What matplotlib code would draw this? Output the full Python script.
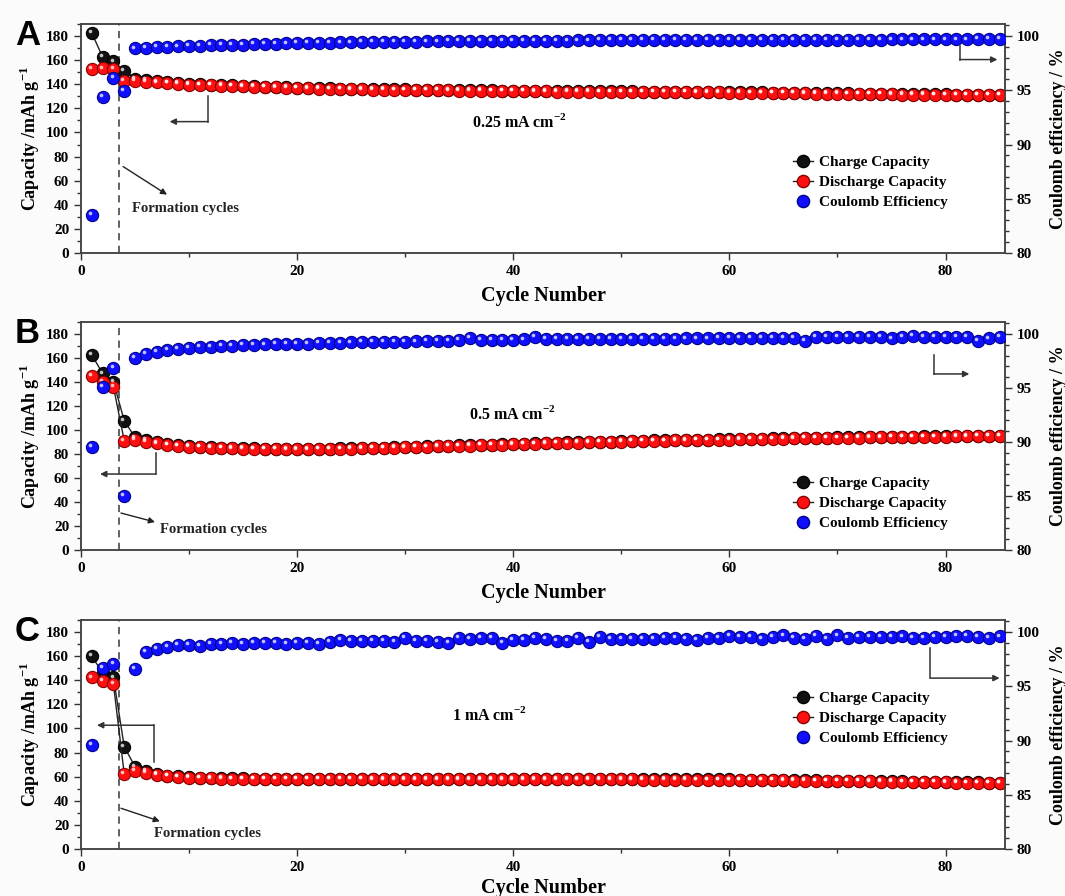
import numpy as np
import matplotlib
matplotlib.use("Agg")
import matplotlib.pyplot as plt
import matplotlib.transforms as mtransforms
from matplotlib.lines import Line2D
from matplotlib.ticker import MultipleLocator

plt.rcParams['font.family'] = ['Liberation Serif', 'DejaVu Serif']
plt.rcParams['mathtext.fontset'] = 'custom'
plt.rcParams['mathtext.rm'] = 'Liberation Serif:bold'
plt.rcParams['mathtext.bf'] = 'Liberation Serif:bold'

cycles = list(range(1, 86))

# ---------------- Panel A (0.25 mA cm-2) ----------------
A_charge = [182.5, 162.6, 159.0, 151.4, 144.5, 143.3, 142.4, 141.6, 141.0, 140.2,
            139.9, 139.6, 139.3, 139.0, 138.7, 138.4, 138.1, 137.8, 137.5, 137.2,
            137.0, 136.8, 136.6, 136.4, 136.2, 136.1, 136.0, 135.9, 135.8, 135.7,
            135.6, 135.5, 135.4, 135.3, 135.2, 135.1, 135.0, 134.9, 134.8, 134.7,
            134.6, 134.5, 134.4, 134.35, 134.3, 134.25, 134.2, 134.15, 134.1, 134.05,
            134.0, 133.95, 133.9, 133.85, 133.8, 133.75, 133.7, 133.65, 133.6, 133.5,
            133.4, 133.3, 133.2, 133.1, 133.0, 132.9, 132.8, 132.7, 132.6, 132.5,
            132.4, 132.3, 132.2, 132.1, 132.0, 131.9, 131.8, 131.7, 131.6, 131.55,
            131.5, 131.45, 131.4, 131.35, 131.3]
A_discharge = [152.6, 153.2, 152.6, 143.1, 143.0, 142.0, 141.5, 141.0, 140.5, 139.8,
               139.5, 139.2, 138.9, 138.6, 138.3, 138.0, 137.7, 137.4, 137.1, 136.8,
               136.6, 136.4, 136.2, 136.0, 135.8, 135.7, 135.6, 135.5, 135.4, 135.3,
               135.2, 135.1, 135.0, 134.9, 134.8, 134.7, 134.6, 134.5, 134.4, 134.3,
               134.2, 134.1, 134.0, 133.95, 133.9, 133.85, 133.8, 133.75, 133.7, 133.65,
               133.6, 133.55, 133.5, 133.45, 133.4, 133.35, 133.3, 133.25, 133.2, 133.1,
               133.0, 132.9, 132.8, 132.7, 132.6, 132.5, 132.4, 132.3, 132.2, 132.1,
               132.0, 131.9, 131.8, 131.7, 131.6, 131.5, 131.4, 131.3, 131.2, 131.15,
               131.1, 131.05, 131.0, 130.95, 130.9]
A_ce = [83.5, 94.37, 96.15, 94.98, 98.86, 98.92, 98.97, 99.01, 99.05, 99.09,
        99.12, 99.15, 99.18, 99.2, 99.22, 99.25, 99.27, 99.29, 99.32, 99.34,
        99.36, 99.38, 99.39, 99.41, 99.42, 99.44, 99.45, 99.46, 99.47, 99.48,
        99.49, 99.5, 99.51, 99.52, 99.53, 99.54, 99.55, 99.55, 99.56, 99.57,
        99.57, 99.58, 99.58, 99.59, 99.59, 99.6, 99.6, 99.61, 99.61, 99.62,
        99.62, 99.62, 99.63, 99.63, 99.63, 99.63, 99.64, 99.64, 99.64, 99.65,
        99.65, 99.65, 99.66, 99.66, 99.66, 99.66, 99.67, 99.67, 99.67, 99.67,
        99.68, 99.68, 99.68, 99.68, 99.69, 99.69, 99.69, 99.69, 99.7, 99.7,
        99.7, 99.7, 99.71, 99.71, 99.71]

# ---------------- Panel B (0.5 mA cm-2) ----------------
B_charge = [162.5, 147.2, 140.3, 107.8, 93.9, 91.6, 89.6, 88.0, 87.1, 86.5,
            86.0, 85.7, 85.3, 85.0, 84.8, 84.6, 84.5, 84.4, 84.3, 84.3,
            84.3, 84.4, 84.5, 84.6, 84.8, 85.0, 85.2, 85.4, 85.7, 85.9,
            86.2, 86.4, 86.7, 86.9, 87.2, 87.4, 87.7, 87.9, 88.2, 88.4,
            88.7, 88.9, 89.2, 89.4, 89.6, 89.8, 90.0, 90.2, 90.4, 90.6,
            90.9, 91.1, 91.3, 91.4, 91.6, 91.7, 91.9, 92.0, 92.2, 92.3,
            92.5, 92.7, 92.8, 93.0, 93.1, 93.3, 93.4, 93.5, 93.7, 93.8,
            93.9, 94.0, 94.1, 94.2, 94.3, 94.4, 94.5, 94.6, 94.7, 94.8,
            94.9, 95.0, 95.3, 95.1, 95.2]
B_discharge = [145.3, 140.3, 136.1, 91.1, 91.7, 90.3, 88.9, 87.5, 86.7, 86.1,
               85.6, 85.3, 84.9, 84.6, 84.4, 84.2, 84.1, 84.0, 83.9, 83.9,
               83.9, 84.0, 84.1, 84.2, 84.4, 84.6, 84.8, 85.0, 85.3, 85.5,
               85.8, 86.0, 86.3, 86.5, 86.8, 87.0, 87.3, 87.5, 87.8, 88.0,
               88.3, 88.5, 88.8, 89.0, 89.2, 89.4, 89.6, 89.8, 90.0, 90.2,
               90.6, 90.8, 91.0, 91.1, 91.3, 91.4, 91.6, 91.7, 91.9, 92.0,
               92.2, 92.4, 92.5, 92.7, 92.8, 93.0, 93.1, 93.2, 93.4, 93.5,
               93.6, 93.7, 93.8, 93.9, 94.0, 94.1, 94.2, 94.3, 94.4, 94.5,
               94.6, 94.7, 95.0, 94.8, 94.9]
B_ce = [89.52, 95.12, 96.84, 85.04, 97.76, 98.19, 98.37, 98.52, 98.65, 98.74,
        98.80, 98.83, 98.90, 98.93, 98.96, 99.00, 99.03, 99.06, 99.08, 99.10,
        99.12, 99.14, 99.17, 99.19, 99.23, 99.24, 99.26, 99.27, 99.29, 99.30,
        99.31, 99.35, 99.36, 99.38, 99.45, 99.66, 99.46, 99.47, 99.48, 99.49,
        99.50, 99.72, 99.52, 99.53, 99.53, 99.54, 99.54, 99.55, 99.55, 99.56,
        99.56, 99.57, 99.57, 99.58, 99.58, 99.59, 99.60, 99.60, 99.62, 99.62,
        99.63, 99.64, 99.64, 99.65, 99.66, 99.66, 99.35, 99.72, 99.70, 99.70,
        99.70, 99.71, 99.71, 99.72, 99.60, 99.72, 99.82, 99.72, 99.72, 99.72,
        99.72, 99.72, 99.35, 99.60, 99.72]

# ---------------- Panel C (1 mA cm-2) ----------------
C_charge = [160.0, 146.0, 142.4, 84.9, 68.3, 64.5, 62.0, 60.9, 60.2, 59.6,
            59.2, 58.9, 58.7, 58.6, 58.5, 58.4, 58.3, 58.3, 58.2, 58.2,
            58.2, 58.2, 58.2, 58.2, 58.2, 58.2, 58.1, 58.1, 58.1, 58.1,
            58.1, 58.1, 58.1, 58.1, 58.1, 58.1, 58.1, 58.1, 58.1, 58.1,
            58.1, 58.1, 58.1, 58.0, 58.0, 58.0, 58.0, 58.0, 58.0, 58.0,
            58.0, 57.9, 57.9, 57.9, 57.9, 57.9, 57.8, 57.8, 57.8, 57.7,
            57.6, 57.5, 57.4, 57.3, 57.2, 57.1, 57.0, 56.9, 56.8, 56.7,
            56.6, 56.5, 56.4, 56.3, 56.2, 56.1, 55.9, 55.8, 55.7, 55.5,
            55.4, 55.3, 55.2, 55.1, 55.0]
C_discharge = [142.4, 139.6, 136.9, 62.2, 64.9, 63.3, 61.4, 60.5, 59.9, 59.3,
               58.9, 58.6, 58.4, 58.3, 58.2, 58.1, 58.0, 58.0, 57.9, 57.9,
               57.9, 57.9, 57.9, 57.9, 57.9, 57.9, 57.8, 57.8, 57.8, 57.8,
               57.8, 57.8, 57.8, 57.8, 57.8, 57.8, 57.8, 57.8, 57.8, 57.8,
               57.8, 57.8, 57.8, 57.7, 57.7, 57.7, 57.7, 57.7, 57.7, 57.7,
               57.7, 57.6, 57.6, 57.6, 57.6, 57.6, 57.5, 57.5, 57.5, 57.4,
               57.3, 57.2, 57.1, 57.0, 56.9, 56.8, 56.7, 56.6, 56.5, 56.4,
               56.3, 56.2, 56.1, 56.0, 55.9, 55.8, 55.6, 55.5, 55.4, 55.2,
               55.1, 55.0, 54.9, 54.8, 54.7]
C_ce = [89.6, 96.7, 97.05, np.nan, 96.6, 98.15, 98.45, 98.65, 98.8, 98.82,
        98.7, 98.93, 98.93, 99.02, 98.9, 99.02, 99.02, 99.0, 98.94, 99.0,
        99.0, 98.91, 99.09, 99.24, 99.15, 99.15, 99.15, 99.15, 99.09, 99.49,
        99.21, 99.15, 99.09, 99.03, 99.46, 99.39, 99.46, 99.49, 99.03, 99.24,
        99.24, 99.46, 99.39, 99.15, 99.21, 99.46, 99.09, 99.58, 99.34, 99.34,
        99.34, 99.34, 99.39, 99.46, 99.46, 99.39, 99.3, 99.45, 99.45, 99.63,
        99.54, 99.54, 99.39, 99.54, 99.69, 99.48, 99.39, 99.63, 99.39, 99.69,
        99.48, 99.54, 99.54, 99.54, 99.54, 99.6, 99.45, 99.45, 99.54, 99.54,
        99.63, 99.63, 99.54, 99.48, 99.6]

rate_labels = [r"0.25 mA cm$^{-2}$", r"0.5 mA cm$^{-2}$", r"1 mA cm$^{-2}$"]
panel_letters = ["A", "B", "C"]
legend_labels = ["Charge Capacity", "Discharge Capacity", "Coulomb Efficiency"]

panels = [(A_charge, A_discharge, A_ce), (B_charge, B_discharge, B_ce), (C_charge, C_discharge, C_ce)]

# ---------------- layout / style ----------------
W, H = 1065, 896
fig = plt.figure(figsize=(W / 100, H / 100), dpi=100)
fig.patch.set_facecolor('#fbfbfb')

ax_rects = [(81, 24, 1005, 253), (81, 322, 1005, 550), (81, 620, 1005, 849)]

def fr(rect):
    l, t, r, b = rect
    return [l / W, 1 - b / H, (r - l) / W, (b - t) / H]

MS = 8.8
colors = {'charge': ('#111111', '#000000'), 'discharge': ('#ff1010', '#8a0000'), 'ce': ('#1010ff', '#00008a')}

# annotation geometry per panel (data coords: cycle, capacity)
ann = [
    dict(lb=[(11.75, 130), (11.75, 109), (8.2, 109)],
         rb=[(81.3, 171.6), (81.3, 160.5), (84.8, 160.5)],
         fa=((3.9, 71.7), (7.96, 48.4)), ft=(4.7, 36.8),
         rt=(40.6, 109), leg=(0.771, 0.426), xpad=6),
    dict(lb=[(6.94, 80.8), (6.94, 63.3), (1.76, 63.3)],
         rb=[(78.9, 162.5), (78.9, 146.7), (82.2, 146.7)],
         fa=((3.7, 30.8), (6.85, 23.3)), ft=(7.3, 17.5),
         rt=(39.9, 113.3), leg=(0.771, 0.323), xpad=6),
    dict(lb=[(6.75, 72.0), (6.75, 102.7), (1.48, 102.7)],
         rb=[(78.6, 166.7), (78.6, 141.8), (85.0, 141.8)],
         fa=((3.7, 33.8), (7.3, 23.0)), ft=(6.75, 13.0),
         rt=(37.8, 111.0), leg=(0.771, 0.688), xpad=3),
]

def style_axis(a):
    for s in a.spines.values():
        s.set_color('#444444')
        s.set_linewidth(1.1)
    a.tick_params(which='both', direction='out', colors='#333333', labelcolor='black', width=1.0)
    a.tick_params(which='major', length=5)
    a.tick_params(which='minor', length=3)
    for lab in a.get_xticklabels() + a.get_yticklabels():
        lab.set_fontweight('bold')
        lab.set_fontsize(11)

def spheres(a, x, y, key, line=False):
    fc, ec = colors[key]
    a.plot(x, y, linestyle='-' if line else 'none', color='#222222', lw=1.0,
           marker='o', ms=MS, mfc=fc, mec=ec, mew=0.8, zorder=3)
    hl = mtransforms.offset_copy(a.transData, fig=fig, x=-1.3, y=1.3, units='points')
    a.plot(x, y, linestyle='none', marker='o', ms=2.6, mfc='white', mec='none',
           alpha=0.75, transform=hl, zorder=4)

for i, (ch, dis, ce) in enumerate(panels):
    ax = fig.add_axes(fr(ax_rects[i]))
    ax.set_facecolor('white')
    ax.set_xlim(0, 85.5)
    ax.set_ylim(0, 190)
    ax.xaxis.set_major_locator(MultipleLocator(20))
    ax.xaxis.set_minor_locator(MultipleLocator(10))
    ax.yaxis.set_major_locator(MultipleLocator(20))
    ax.yaxis.set_minor_locator(MultipleLocator(10))
    ax.axvline(3.5, color='#555555', lw=1.3, ls=(0, (4, 3)), zorder=2)

    spheres(ax, cycles, ch, 'charge', line=True)
    spheres(ax, cycles, dis, 'discharge', line=True)

    ax2 = ax.twinx()
    ax2.set_ylim(80, 80 + 190 / 9)
    ax2.yaxis.set_major_locator(MultipleLocator(5))
    ax2.yaxis.set_minor_locator(MultipleLocator(1))
    spheres(ax2, cycles, ce, 'ce', line=False)

    style_axis(ax)
    style_axis(ax2)

    g = ann[i]
    ax.set_xlabel("Cycle Number", fontsize=14.5, fontweight='bold', labelpad=g['xpad'])
    ax.set_ylabel(r"Capacity /mAh g$^{-1}$", fontsize=13, fontweight='bold', labelpad=3)
    ax2.set_ylabel("Coulomb efficiency / %", fontsize=13, fontweight='bold', labelpad=7)

    pts = g['lb']
    ax.plot([p[0] for p in pts[:2]], [p[1] for p in pts[:2]], color='#333333', lw=1.1, zorder=2)
    ax.annotate("", xy=pts[2], xytext=pts[1],
                arrowprops=dict(arrowstyle='-|>', color='#333333', lw=1.1, mutation_scale=9, shrinkA=0, shrinkB=0))
    pts = g['rb']
    ax.plot([p[0] for p in pts[:2]], [p[1] for p in pts[:2]], color='#333333', lw=1.1, zorder=2)
    ax.annotate("", xy=pts[2], xytext=pts[1],
                arrowprops=dict(arrowstyle='-|>', color='#333333', lw=1.1, mutation_scale=9, shrinkA=0, shrinkB=0))
    ax.annotate("", xy=g['fa'][1], xytext=g['fa'][0],
                arrowprops=dict(arrowstyle='-|>', color='#222222', lw=1.0, mutation_scale=9, shrinkA=0, shrinkB=0))
    ax.text(g['ft'][0], g['ft'][1], "Formation cycles", fontsize=10.5, fontweight='bold',
            ha='left', va='center', color='#222222')
    ax.text(g['rt'][0], g['rt'][1], rate_labels[i], fontsize=11.5, fontweight='bold',
            ha='center', va='center')

    handles = [
        Line2D([], [], color='#222222', lw=1.0, marker='o', ms=MS, mfc=colors['charge'][0], mec=colors['charge'][1]),
        Line2D([], [], color='#222222', lw=1.0, marker='o', ms=MS, mfc=colors['discharge'][0], mec=colors['discharge'][1]),
        Line2D([], [], color='none', lw=0, marker='o', ms=MS, mfc=colors['ce'][0], mec=colors['ce'][1]),
    ]
    ax2.legend(handles, legend_labels, loc='upper left', bbox_to_anchor=g['leg'],
               frameon=False, handlelength=1.3, handletextpad=0.4,
               labelspacing=0.42, borderpad=0, borderaxespad=0,
               prop=dict(weight='bold', size=11))

    fig.text(15 / W, 1 - [45, 343, 641][i] / H, panel_letters[i], fontsize=25, fontweight='bold',
             family='Liberation Sans', ha='left', va='baseline')

fig.savefig("out.png", dpi=100, facecolor=fig.get_facecolor())
